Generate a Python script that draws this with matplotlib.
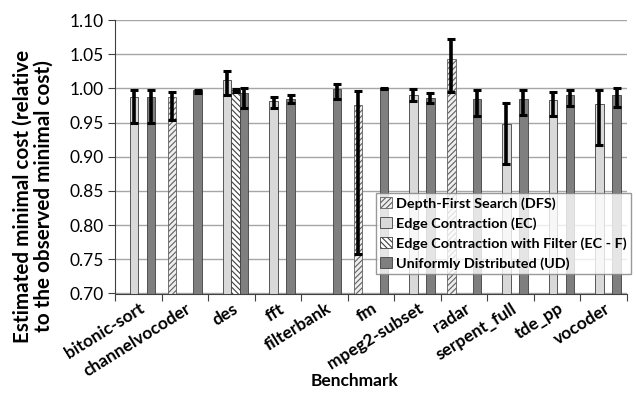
import numpy as np
import matplotlib
matplotlib.use("Agg")
import matplotlib.pyplot as plt
import matplotlib.transforms as mtransforms

plt.rcParams['font.family'] = ['Lato', 'DejaVu Sans']
plt.rcParams['hatch.linewidth'] = 0.8

categories = ["bitonic-sort", "channelvocoder", "des", "fft", "filterbank", "fm",
              "mpeg2-subset", "radar", "serpent_full", "tde_pp", "vocoder"]
nan = np.nan
series_names = ["Depth-First Search (DFS)", "Edge Contraction (EC)",
                "Edge Contraction with Filter (EC - F)", "Uniformly Distributed (UD)"]

dfs = [nan, 0.988, nan, nan, nan, 0.975, nan, 1.043, nan, nan, nan]
dfs_lo = [nan, 0.954, nan, nan, nan, 0.758, nan, 0.994, nan, nan, nan]
dfs_hi = [nan, 0.995, nan, nan, nan, 0.996, nan, 1.072, nan, nan, nan]

ec = [0.988, nan, 1.012, 0.981, nan, nan, 0.991, nan, 0.948, 0.983, 0.977]
ec_lo = [0.950, nan, 0.991, 0.972, nan, nan, 0.982, nan, 0.890, 0.960, 0.917]
ec_hi = [0.998, nan, 1.026, 0.988, nan, nan, 0.999, nan, 0.978, 0.994, 0.998]

ecf = [nan, nan, 0.998, nan, nan, nan, nan, nan, nan, nan, nan]
ecf_lo = [nan, nan, 0.994, nan, nan, nan, nan, nan, nan, nan, nan]
ecf_hi = [nan, nan, 0.999, nan, nan, nan, nan, nan, nan, nan, nan]

ud = [0.987, 0.997, 0.993, 0.985, 0.999, 1.000, 0.986, 0.984, 0.985, 0.991, 0.991]
ud_lo = [0.950, 0.993, 0.972, 0.978, 0.984, 0.999, 0.978, 0.959, 0.961, 0.974, 0.973]
ud_hi = [0.998, 0.998, 1.000, 0.991, 1.006, 1.001, 0.993, 0.998, 0.998, 0.998, 1.000]

yticks = [0.70, 0.75, 0.80, 0.85, 0.90, 0.95, 1.00, 1.05, 1.10]

fig = plt.figure(figsize=(6.36, 3.93), dpi=100)
ax = fig.add_axes([115/636, 1-293.5/393, (627-115)/636, (293.5-20)/393])

x = np.arange(len(categories))
w = 0.183
styles = [
    dict(facecolor='#eeeeee', hatch='//////', edgecolor='#606060'),
    dict(facecolor='#d9d9d9', hatch=None, edgecolor='#404040'),
    dict(facecolor='#ffffff', hatch='\\\\\\\\\\\\', edgecolor='#404040'),
    dict(facecolor='#7f7f7f', hatch=None, edgecolor='#404040'),
]
data = [(dfs, dfs_lo, dfs_hi), (ec, ec_lo, ec_hi), (ecf, ecf_lo, ecf_hi), (ud, ud_lo, ud_hi)]
handles = []
for i, ((v, lo, hi), st, name) in enumerate(zip(data, styles, series_names)):
    v = np.array(v); lo = np.array(lo); hi = np.array(hi)
    pos = x + (i - 1.5) * w
    b = ax.bar(pos, v, width=w, bottom=0, facecolor=st['facecolor'], edgecolor=st['edgecolor'],
               hatch=st['hatch'], linewidth=0.6, label=name, zorder=2)
    handles.append(b)
    m = ~np.isnan(v)
    ax.errorbar(pos[m], v[m], yerr=[v[m]-lo[m], hi[m]-v[m]], fmt='none', ecolor='black',
                elinewidth=2.6, capsize=3, capthick=2.2, zorder=3)

ax.set_ylim(0.70, 1.10)
ax.set_xlim(-0.5, len(categories)-0.5)
ax.set_yticks(yticks)
ax.set_yticklabels([f"{t:.2f}" for t in yticks], fontsize=12.5)
ax.yaxis.grid(True, color='#a6a6a6', linewidth=1.0, zorder=0)
ax.set_axisbelow(True)
for s in ['top', 'right']:
    ax.spines[s].set_visible(False)
ax.spines['left'].set_color('#404040')
ax.spines['bottom'].set_color('#404040')
ax.tick_params(axis='y', direction='out', length=5, color='#404040', pad=3)

ax.set_xticks(np.arange(len(categories)+1) - 0.5)
ax.set_xticklabels([])
ax.tick_params(axis='x', which='major', direction='out', length=5, color='#404040')
ax.set_xticks(x, minor=True)
ax.set_xticklabels(categories, minor=True, rotation=32, ha='right', va='top',
                   fontsize=12.5, fontweight='bold')
ax.tick_params(axis='x', which='minor', length=0, pad=5)
offset = mtransforms.ScaledTranslation(9/100, 0, fig.dpi_scale_trans)
for lab in ax.xaxis.get_minorticklabels():
    lab.set_transform(lab.get_transform() + offset)

fig.text(354.5/636, 1-381.5/393, "Benchmark", ha='center', va='center', fontsize=12.5, fontweight='bold')
fig.text(33/636, 1-196/393, "Estimated minimal cost (relative\nto the observed minimal cost)",
         rotation=90, ha='center', va='center', fontsize=14.9, fontweight='bold',
         multialignment='center', linespacing=1.05)

leg = fig.legend(handles=handles, labels=series_names, loc='upper left',
                 bbox_to_anchor=(376/636, 1-193/393), bbox_transform=fig.transFigure,
                 fontsize=10.4, frameon=True, fancybox=False, edgecolor='#808080',
                 handlelength=0.8, handleheight=0.8, handletextpad=0.3,
                 borderpad=0.3, labelspacing=0.5, borderaxespad=0)
leg.get_frame().set_linewidth(1.0)
for t in leg.get_texts():
    t.set_fontweight('bold')

fig.savefig("out.png", dpi=100)
